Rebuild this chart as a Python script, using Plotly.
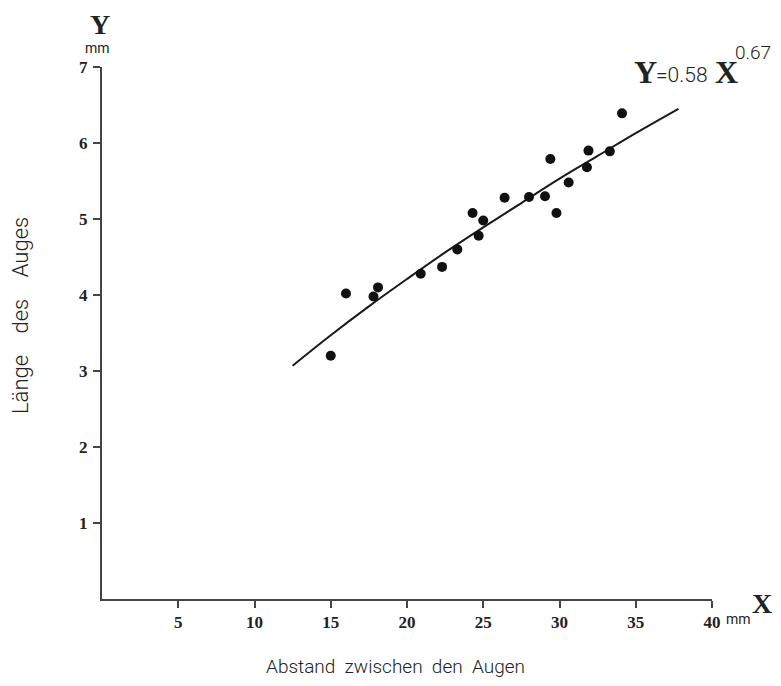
import plotly.graph_objects as go

# Measured points (distance between eyes in mm, eye length in mm)
x_vals = [15.0, 16.0, 17.8, 18.1, 20.9, 22.3, 23.3, 24.3, 24.7, 25.0,
          26.4, 28.0, 29.05, 29.8, 30.6, 29.4, 31.8, 31.9, 33.3, 34.1]
y_vals = [3.2, 4.02, 3.98, 4.1, 4.28, 4.37, 4.6, 5.08, 4.78, 4.98,
          5.28, 5.29, 5.30, 5.08, 5.48, 5.79, 5.68, 5.90, 5.89, 6.39]

# Fitted curve
curve_x = [12.5, 15, 17.5, 20, 22.5, 25, 27.5, 30, 32.5, 35, 37.8]
curve_y = [3.07, 3.47, 3.85, 4.21, 4.56, 4.89, 5.21, 5.53, 5.83, 6.13, 6.45]

x_ticks = [5, 10, 15, 20, 25, 30, 35, 40]
y_ticks = [1, 2, 3, 4, 5, 6, 7]

fig = go.Figure()
fig.add_trace(go.Scatter(x=curve_x, y=curve_y, mode="lines",
                         line=dict(color="#1a1a1a", width=2, shape="spline"),
                         hoverinfo="skip", showlegend=False))
fig.add_trace(go.Scatter(x=x_vals, y=y_vals, mode="markers",
                         marker=dict(color="#111111", size=10),
                         showlegend=False))

axis_common = dict(showgrid=False, zeroline=False, showline=True,
                   linecolor="#444444", linewidth=2, ticks="outside",
                   ticklen=7, tickwidth=1.5, tickcolor="#444444",
                   tickfont=dict(family="Liberation Serif", size=17,
                                 color="#222222", weight="bold"))

fig.update_xaxes(range=[0, 40], tickvals=x_ticks, ticktext=[str(t) for t in x_ticks],
                 **axis_common)
fig.update_yaxes(range=[0, 7], tickvals=y_ticks, ticktext=[str(t) for t in y_ticks],
                 ticklabelstandoff=2, **axis_common)

serif_bold = dict(family="Liberation Serif", color="#222222", weight="bold")
sans = dict(family="Roboto", color="#222222", weight=400)
sans_light = dict(family="Roboto", color="#222222", weight=300)

SP = "&nbsp;" * 4
# pixel positions in the screenshot (page has an 8px body margin)
annots = [
    # axis letters and units
    dict(x=100, y=25, text="Y", font=dict(size=28, **serif_bold)),
    dict(x=97, y=48, text="mm", font=dict(size=14, **sans)),
    dict(x=762, y=603, text="X", font=dict(size=28, **serif_bold)),
    dict(x=738, y=619, text="mm", font=dict(size=14, **sans)),
    # equation
    dict(x=645, y=72, text="Y", font=dict(size=32, **serif_bold)),
    dict(x=682, y=75, text="=0.58", font=dict(size=21, **sans_light)),
    dict(x=726, y=72, text="X", font=dict(size=32, **serif_bold)),
    dict(x=753, y=53, text="0.67", font=dict(size=19, **sans_light)),
    # axis titles
    dict(x=395, y=666, text="Abstand&nbsp;&nbsp;zwischen&nbsp;&nbsp;den&nbsp;&nbsp;Augen",
         font=dict(size=19, **sans_light)),
    dict(x=20, y=316, text="Länge" + SP + "des" + SP + "Auges", textangle=-90,
         font=dict(size=22, **sans_light)),
]

OFF = 8
W, H = 781 - OFF, 686 - 2 * OFF
L, R, T = 102 - OFF, 69, 67 - OFF
B = H - T - 532
annotations = []
for a in annots:
    px, py = a.pop("x") - OFF, a.pop("y") - OFF
    annotations.append(dict(xref="paper", yref="paper",
                            x=(px - L) / (W - L - R), y=1 - (py - T) / (H - T - B),
                            xanchor="center", yanchor="middle", showarrow=False, **a))

fig.update_layout(width=W, height=H, margin=dict(l=L, r=R, t=T, b=B),
                  paper_bgcolor="white", plot_bgcolor="white",
                  annotations=annotations)

fig.write_html("out.html")
